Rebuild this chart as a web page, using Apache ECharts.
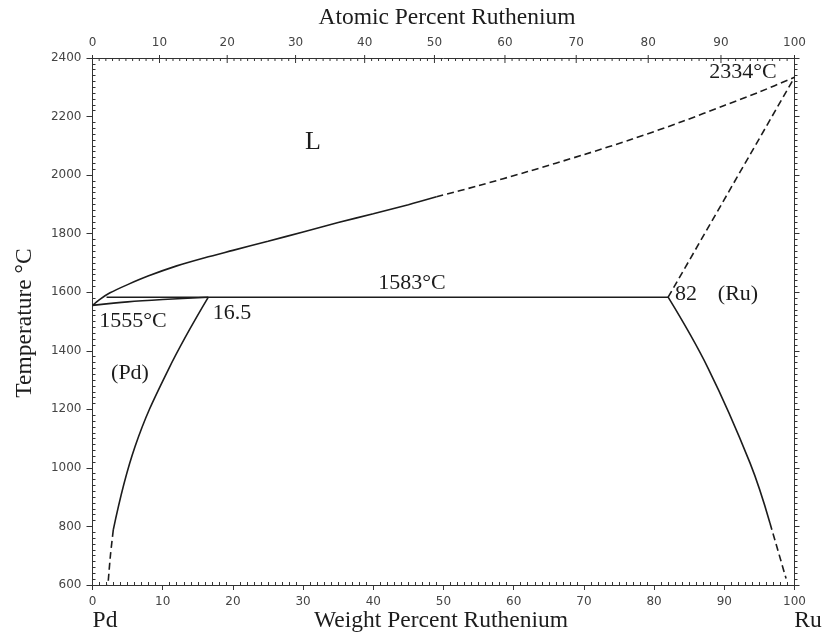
<!DOCTYPE html>
<html>
<head>
<meta charset="utf-8">
<script src="https://cdn.jsdelivr.net/npm/echarts@6/dist/echarts.min.js"></script>
<style>html,body{margin:0;padding:0;background:#fff;}#c{width:825px;height:640px;}</style>
</head>
<body>
<div id="c"></div>
<script>
// ---- data (weight % Ru, temperature °C) ----
const liquidusSolid = [[0,1555],[1,1575],[2.5,1598],[5,1626],[8,1656],[12,1690],[16,1718],[20,1743],[25,1774],[30,1806],[35,1838],[40,1868],[45,1899],[49,1926]];
const liquidusDashed = [[49,1926],[55,1964],[62,2012],[70,2070],[77,2124],[84,2183],[90,2238],[95,2284],[100,2334]];
const peritectic = [[2.0,1583],[82,1583]];
const solidusPd = [[0,1555],[5,1567],[10,1575],[16.5,1583]];
const solvusPdSolid = [[16.5,1583],[10.77,1334],[6.05,1072],[2.96,788]];
const solvusPdDashed = [[2.96,788],[2.55,700],[2.2,600]];
const solidusRuDashed = [[82,1583],[100,2334]];
const solvusRuSolid = [[82,1583],[87.68,1341],[93.66,1017],[96.5,812]];
const solvusRuDashed = [[96.5,812],[98.8,622]];

// ---- axis ticks ----
const weightTicks = [0,10,20,30,40,50,60,70,80,90,100];
const tempTicks = [600,800,1000,1200,1400,1600,1800,2000,2200,2400];
const atomicLabels = [0,10,20,30,40,50,60,70,80,90,100];
const atomicMinorStep = 1;
const M_RU = 101.07, M_PD = 106.42;
function atToWt(a){ return 100*a*M_RU/(a*M_RU+(100-a)*M_PD); }
const atomicTicks = [];
for (let a = 0; a <= 100; a += atomicMinorStep) atomicTicks.push(a);

const INK = '#1c1c1c';
const AX = '#333';
const serif = '"Liberation Serif", "DejaVu Serif", serif';
const tickFont = '"DejaVu Sans", sans-serif';

function lineSeries(data, dashed, smooth){
  return {
    type:'line', data:data, xAxisIndex:0, yAxisIndex:0,
    showSymbol:false, symbol:'none', smooth: smooth || false,
    lineStyle:{color:INK, width:1.6, type: dashed ? [7,4] : 'solid'},
    silent:true, clip:false
  };
}

function txt(x, y, s, size, rot){
  return {type:'text', x:x, y:y, rotation: rot||0,
    style:{text:s, font: size+'px '+serif, fill:INK,
      textAlign:'center', textVerticalAlign:'middle', align:'center', verticalAlign:'middle'}};
}

const chart = echarts.init(document.getElementById('c'), null, {renderer:'canvas'});
const option = {
  animation:false,
  backgroundColor:'#fff',
  grid:{left:92.5, right:30.5, top:58, bottom:55, containLabel:false},
  xAxis:[
    {type:'value', position:'bottom', min:0, max:100, interval:10,
     axisLine:{show:true, onZero:false, lineStyle:{color:AX, width:1}},
     axisTick:{show:true, length:5, lineStyle:{color:AX}},
     minorTick:{show:false},
     axisLabel:{show:true, margin:11, fontFamily:tickFont, fontSize:12, color:'#444',
       formatter:(v)=> weightTicks.indexOf(v)>=0 ? String(v) : ''},
     splitLine:{show:false}},
    {type:'value', position:'bottom', min:0, max:100, interval:10,
     axisLine:{show:false, onZero:false},
     axisTick:{show:false, inside:true},
     minorTick:{show:true, splitNumber:10, length:3, lineStyle:{color:AX}},
     axisLabel:{show:false}, splitLine:{show:false}},
    {type:'value', position:'top', min:0, max:100,
     axisLine:{show:true, onZero:false, lineStyle:{color:AX, width:1}},
     axisTick:{show:false}, axisLabel:{show:false}, splitLine:{show:false}}
  ],
  yAxis:[
    {type:'value', position:'left', min:600, max:2400, interval:200,
     axisLine:{show:true, onZero:false, lineStyle:{color:AX, width:1}},
     axisTick:{show:true, length:6, lineStyle:{color:AX}},
     axisLabel:{show:true, margin:11, fontFamily:tickFont, fontSize:12, color:'#444',
       formatter:(v)=> tempTicks.indexOf(v)>=0 ? String(v) : ''},
     splitLine:{show:false}},
    {type:'value', position:'left', min:600, max:2400, interval:200,
     axisLine:{show:false, onZero:false},
     axisTick:{show:false, inside:true},
     minorTick:{show:true, splitNumber:10, length:3, lineStyle:{color:AX}},
     axisLabel:{show:false}, splitLine:{show:false}},
    {type:'value', position:'right', min:600, max:2400, interval:200,
     axisLine:{show:true, onZero:false, lineStyle:{color:AX, width:1}},
     axisTick:{show:true, length:5, lineStyle:{color:AX}},
     minorTick:{show:true, splitNumber:10, length:3, lineStyle:{color:AX}},
     axisLabel:{show:false}, splitLine:{show:false}}
  ],
  series:[
    lineSeries(liquidusSolid,false,0.3),
    lineSeries(liquidusDashed,true,0.3),
    lineSeries(peritectic,false,false),
    lineSeries(solidusPd,false,0.3),
    lineSeries(solvusPdSolid,false,0.4),
    lineSeries(solvusPdDashed,true,0.3),
    lineSeries(solidusRuDashed,true,false),
    lineSeries(solvusRuSolid,false,0.4),
    lineSeries(solvusRuDashed,true,false),
    {
      type:'custom', xAxisIndex:0, yAxisIndex:0, silent:true, clip:false,
      data: atomicTicks.map(a => [atToWt(a), a]),
      renderItem:function(params, api){
        const a = api.value(1);
        const major = atomicLabels.indexOf(a) >= 0;
        const p = api.coord([api.value(0), 2400]);
        const children = [{
          type:'line',
          shape:{x1:p[0], y1:p[1]-(major?3:0), x2:p[0], y2:p[1]+(major?5:3)},
          style:{stroke:AX, lineWidth:1}
        }];
        if (major) {
          children.push({type:'text', style:{text:String(a), x:p[0], y:p[1]-15,
            align:'center', verticalAlign:'middle', textAlign:'center', textVerticalAlign:'middle',
            fontSize:12, fontFamily:tickFont, fill:'#444'}});
        }
        return {type:'group', children:children};
      }
    }
  ],
  graphic:[
    txt(447, 18, 'Atomic Percent Ruthenium', 23.5),
    txt(441, 621, 'Weight Percent Ruthenium', 23.5),
    txt(105, 621, 'Pd', 23.5),
    txt(808, 621, 'Ru', 23.5),
    txt(25, 323, 'Temperature °C', 23.5, Math.PI/2),
    txt(313, 142, 'L', 26),
    txt(412, 283, '1583°C', 22),
    txt(133, 321, '1555°C', 22),
    txt(232, 313, '16.5', 22),
    txt(686, 294, '82', 22),
    txt(738, 294, '(Ru)', 22),
    txt(130, 373, '(Pd)', 22),
    txt(743, 72, '2334°C', 22)
  ]
};
chart.setOption(option);
</script>
</body>
</html>
